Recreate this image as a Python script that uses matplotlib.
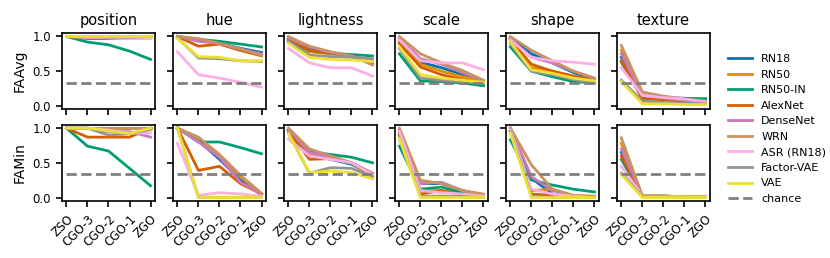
import matplotlib
matplotlib.use("Agg")
import matplotlib.pyplot as plt

x_labels = ["ZSO", "CGO-3", "CGO-2", "CGO-1", "ZGO"]
factors = ["position", "hue", "lightness", "scale", "shape", "texture"]
metrics = ["FAAvg", "FAMin"]
models = ["RN18", "RN50", "RN50-IN", "AlexNet", "DenseNet", "WRN", "ASR (RN18)", "Factor-VAE", "VAE"]
colors = ["#0173b2", "#de8f05", "#029e73", "#d55e00", "#cc78bc", "#ca9161", "#fbafe4", "#949494", "#ece133"]
chance = 1 / 3

# FAAvg values: factor -> model -> 5 values
faavg_position = {
    "RN18": [1.0, 1.0, 1.0, 1.0, 1.0],
    "RN50": [1.0, 1.0, 1.0, 1.0, 1.0],
    "RN50-IN": [1.0, 0.92, 0.88, 0.79, 0.67],
    "AlexNet": [1.0, 0.97, 0.97, 0.98, 1.0],
    "DenseNet": [1.0, 0.99, 0.99, 0.99, 0.98],
    "WRN": [1.0, 1.0, 1.0, 1.0, 1.0],
    "ASR (RN18)": [1.0, 0.99, 0.98, 0.97, 0.97],
    "Factor-VAE": [1.0, 1.0, 0.99, 0.99, 1.0],
    "VAE": [1.0, 1.0, 1.0, 1.0, 1.0],
}
faavg_hue = {
    "RN18": [1.0, 0.95, 0.9, 0.83, 0.77],
    "RN50": [1.0, 0.95, 0.9, 0.8, 0.72],
    "RN50-IN": [1.0, 0.96, 0.93, 0.89, 0.85],
    "AlexNet": [1.0, 0.86, 0.89, 0.8, 0.73],
    "DenseNet": [1.0, 0.93, 0.9, 0.82, 0.75],
    "WRN": [1.0, 0.97, 0.9, 0.82, 0.73],
    "ASR (RN18)": [0.78, 0.45, 0.4, 0.34, 0.27],
    "Factor-VAE": [0.98, 0.69, 0.68, 0.65, 0.64],
    "VAE": [0.97, 0.71, 0.7, 0.65, 0.65],
}
faavg_lightness = {
    "RN18": [0.97, 0.83, 0.76, 0.72, 0.65],
    "RN50": [0.92, 0.78, 0.75, 0.72, 0.62],
    "RN50-IN": [0.95, 0.8, 0.76, 0.74, 0.72],
    "AlexNet": [0.97, 0.8, 0.76, 0.72, 0.6],
    "DenseNet": [0.98, 0.85, 0.77, 0.72, 0.64],
    "WRN": [1.0, 0.86, 0.78, 0.72, 0.59],
    "ASR (RN18)": [0.83, 0.62, 0.55, 0.55, 0.43],
    "Factor-VAE": [0.93, 0.73, 0.71, 0.7, 0.68],
    "VAE": [0.9, 0.7, 0.67, 0.66, 0.64],
}
faavg_scale = {
    "RN18": [0.93, 0.63, 0.55, 0.45, 0.35],
    "RN50": [0.92, 0.6, 0.5, 0.42, 0.35],
    "RN50-IN": [0.75, 0.36, 0.35, 0.33, 0.29],
    "AlexNet": [0.9, 0.56, 0.45, 0.38, 0.33],
    "DenseNet": [0.97, 0.68, 0.6, 0.48, 0.36],
    "WRN": [1.0, 0.75, 0.62, 0.51, 0.37],
    "ASR (RN18)": [0.95, 0.65, 0.62, 0.62, 0.52],
    "Factor-VAE": [0.83, 0.4, 0.37, 0.35, 0.33],
    "VAE": [0.85, 0.45, 0.4, 0.37, 0.34],
}
faavg_shape = {
    "RN18": [0.98, 0.75, 0.62, 0.48, 0.38],
    "RN50": [0.95, 0.55, 0.5, 0.42, 0.36],
    "RN50-IN": [0.85, 0.5, 0.42, 0.35, 0.33],
    "AlexNet": [0.95, 0.6, 0.5, 0.43, 0.37],
    "DenseNet": [0.97, 0.7, 0.62, 0.5, 0.4],
    "WRN": [1.0, 0.8, 0.65, 0.5, 0.4],
    "ASR (RN18)": [0.95, 0.7, 0.65, 0.63, 0.6],
    "Factor-VAE": [0.9, 0.5, 0.45, 0.38, 0.33],
    "VAE": [0.92, 0.52, 0.47, 0.4, 0.36],
}
faavg_texture = {
    "RN18": [0.7, 0.12, 0.12, 0.11, 0.1],
    "RN50": [0.8, 0.15, 0.1, 0.07, 0.05],
    "RN50-IN": [0.63, 0.12, 0.1, 0.1, 0.1],
    "AlexNet": [0.65, 0.1, 0.09, 0.07, 0.05],
    "DenseNet": [0.75, 0.15, 0.12, 0.08, 0.06],
    "WRN": [0.87, 0.2, 0.14, 0.1, 0.07],
    "ASR (RN18)": [0.55, 0.15, 0.12, 0.1, 0.06],
    "Factor-VAE": [0.37, 0.07, 0.05, 0.04, 0.03],
    "VAE": [0.35, 0.03, 0.03, 0.02, 0.02],
}

# FAMin values
famin_position = {
    "RN18": [1.0, 1.0, 1.0, 1.0, 1.0],
    "RN50": [1.0, 1.0, 1.0, 1.0, 1.0],
    "RN50-IN": [1.0, 0.74, 0.67, 0.42, 0.17],
    "AlexNet": [1.0, 0.87, 0.87, 0.87, 1.0],
    "DenseNet": [1.0, 1.0, 0.95, 0.95, 0.87],
    "WRN": [1.0, 1.0, 1.0, 1.0, 1.0],
    "ASR (RN18)": [1.0, 1.0, 0.97, 0.93, 0.93],
    "Factor-VAE": [1.0, 1.0, 0.9, 0.92, 0.98],
    "VAE": [1.0, 1.0, 0.96, 0.92, 1.0],
}
famin_hue = {
    "RN18": [1.0, 0.82, 0.55, 0.25, 0.04],
    "RN50": [1.0, 0.85, 0.6, 0.3, 0.05],
    "RN50-IN": [1.0, 0.8, 0.8, 0.72, 0.63],
    "AlexNet": [1.0, 0.39, 0.45, 0.2, 0.05],
    "DenseNet": [1.0, 0.8, 0.58, 0.22, 0.05],
    "WRN": [1.0, 0.87, 0.62, 0.32, 0.06],
    "ASR (RN18)": [0.78, 0.03, 0.07, 0.05, 0.02],
    "Factor-VAE": [1.0, 0.0, 0.0, 0.0, 0.0],
    "VAE": [1.0, 0.0, 0.0, 0.0, 0.0],
}
famin_lightness = {
    "RN18": [0.98, 0.62, 0.55, 0.48, 0.33],
    "RN50": [0.97, 0.63, 0.57, 0.5, 0.33],
    "RN50-IN": [0.97, 0.66, 0.62, 0.58, 0.5],
    "AlexNet": [0.96, 0.55, 0.56, 0.5, 0.3],
    "DenseNet": [0.98, 0.65, 0.58, 0.5, 0.35],
    "WRN": [1.0, 0.7, 0.6, 0.5, 0.35],
    "ASR (RN18)": [0.84, 0.6, 0.55, 0.5, 0.33],
    "Factor-VAE": [0.93, 0.35, 0.43, 0.42, 0.3],
    "VAE": [0.92, 0.36, 0.38, 0.36, 0.27],
}
famin_scale = {
    "RN18": [0.9, 0.2, 0.2, 0.1, 0.03],
    "RN50": [0.92, 0.1, 0.1, 0.05, 0.02],
    "RN50-IN": [0.74, 0.12, 0.15, 0.07, 0.04],
    "AlexNet": [0.92, 0.05, 0.1, 0.03, 0.02],
    "DenseNet": [0.97, 0.2, 0.22, 0.1, 0.03],
    "WRN": [1.0, 0.25, 0.2, 0.1, 0.05],
    "ASR (RN18)": [0.95, 0.1, 0.07, 0.05, 0.02],
    "Factor-VAE": [0.85, 0.02, 0.02, 0.01, 0.0],
    "VAE": [0.85, 0.0, 0.0, 0.0, 0.0],
}
famin_shape = {
    "RN18": [0.95, 0.28, 0.05, 0.02, 0.0],
    "RN50": [0.95, 0.1, 0.12, 0.02, 0.0],
    "RN50-IN": [0.83, 0.25, 0.18, 0.12, 0.08],
    "AlexNet": [0.95, 0.05, 0.03, 0.01, 0.0],
    "DenseNet": [1.0, 0.3, 0.1, 0.03, 0.01],
    "WRN": [1.0, 0.47, 0.12, 0.03, 0.02],
    "ASR (RN18)": [0.97, 0.12, 0.05, 0.02, 0.0],
    "Factor-VAE": [0.95, 0.02, 0.0, 0.0, 0.0],
    "VAE": [0.93, 0.0, 0.0, 0.0, 0.0],
}
famin_texture = {
    "RN18": [0.65, 0.02, 0.02, 0.01, 0.01],
    "RN50": [0.78, 0.02, 0.02, 0.01, 0.01],
    "RN50-IN": [0.55, 0.02, 0.02, 0.01, 0.01],
    "AlexNet": [0.6, 0.02, 0.02, 0.01, 0.01],
    "DenseNet": [0.7, 0.02, 0.02, 0.01, 0.01],
    "WRN": [0.86, 0.02, 0.02, 0.01, 0.01],
    "ASR (RN18)": [0.45, 0.02, 0.02, 0.01, 0.01],
    "Factor-VAE": [0.35, 0.01, 0.01, 0.0, 0.0],
    "VAE": [0.33, 0.0, 0.0, 0.0, 0.0],
}

data = {
    "FAAvg": [faavg_position, faavg_hue, faavg_lightness, faavg_scale, faavg_shape, faavg_texture],
    "FAMin": [famin_position, famin_hue, famin_lightness, famin_scale, famin_shape, famin_texture],
}

fig, axes = plt.subplots(2, 6, figsize=(8.3, 2.58), dpi=100, sharex=True, sharey=True)
fig.subplots_adjust(left=0.075, right=0.855, top=0.872, bottom=0.221, wspace=0.2, hspace=0.2)

xs = list(range(len(x_labels)))
for r, metric in enumerate(metrics):
    for c, factor in enumerate(factors):
        ax = axes[r, c]
        d = data[metric][c]
        for m, col in zip(models, colors):
            ax.plot(xs, d[m], color=col, lw=2, label=m)
        ax.plot(xs, [chance] * len(xs), color="gray", lw=2, ls="--", label="chance")
        ax.set_ylim(-0.05, 1.05)
        ax.set_yticks([0.0, 0.5, 1.0])
        ax.set_xticks(xs)
        ax.tick_params(labelsize=8.5, length=4.5, width=1.2)
        for sp in ax.spines.values():
            sp.set_linewidth(1.2)
        if r == 0:
            ax.set_title(factor, fontsize=10.5)
        if c == 0:
            ax.set_ylabel(metric, fontsize=10)
        if r == 1:
            ax.set_xticklabels(x_labels, rotation=45, ha="right", rotation_mode="anchor")

handles, labels = axes[0, 0].get_legend_handles_labels()
fig.legend(handles, labels, loc="center left", bbox_to_anchor=(0.865, 0.5), frameon=False,
           fontsize=8, handlelength=2.2, labelspacing=0.5)

fig.savefig("out.png", dpi=100)
